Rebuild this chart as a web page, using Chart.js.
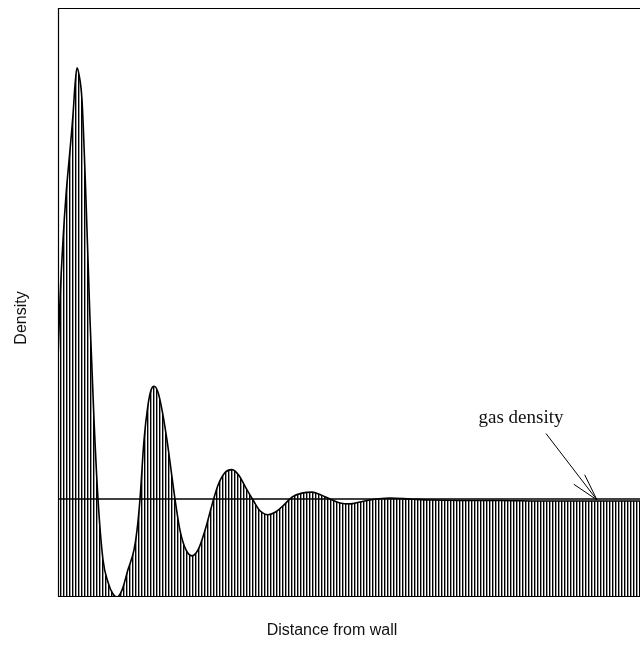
<!DOCTYPE html>
<html>
<head>
<meta charset="utf-8">
<script src="https://cdn.jsdelivr.net/npm/chart.js@4.4.1/dist/chart.umd.min.js"></script>
<style>
  html, body { margin: 0; padding: 0; background: #fff; }
  #wrap { width: 640px; height: 647px; }
</style>
</head>
<body>
<div id="wrap"><canvas id="densityChart"></canvas></div>
<script>
// distance from wall (arbitrary units) and density profile
const distance = [0, 2, 5, 8, 12, 15, 17, 19, 21, 24, 28, 32, 36, 40, 45, 50, 55, 59, 64, 70, 76, 79, 82, 86, 90, 93, 96, 100, 104, 109, 113, 117, 122, 128, 134, 140, 147, 154, 160, 167, 174, 181, 188, 195, 202, 210, 218, 226, 234, 244, 254, 263, 272, 282, 292, 302, 312, 332, 352, 372, 402, 442, 482, 522, 582];
const density  = [2.42, 3.03, 3.64, 4.10, 4.56, 4.92, 5.22, 5.40, 5.33, 5.07, 4.05, 2.83, 1.81, 1.0, 0.38, 0.15, 0.03, 0.0, 0.07, 0.28, 0.48, 0.68, 1.0, 1.6, 1.96, 2.11, 2.15, 2.09, 1.91, 1.6, 1.30, 1.0, 0.68, 0.48, 0.42, 0.48, 0.68, 0.94, 1.14, 1.27, 1.30, 1.24, 1.11, 0.99, 0.88, 0.84, 0.87, 0.94, 1.02, 1.06, 1.07, 1.04, 1.0, 0.96, 0.95, 0.97, 0.99, 1.01, 1.0, 0.99, 0.985, 0.985, 0.98, 0.98, 0.98];
const gasDensity = 1.0;
const xMax = 582;
const yMax = 6.01;

// annotation: label position and arrow tip, in data units
const gasLabel = { text: "gas density", x: 463, y: 1.78 };
const gasArrowTip = { x: 539, y: 0.99 };

// vertical hatching pattern
function hatch(){
  const c = document.createElement("canvas");
  c.width = 3; c.height = 4;
  const g = c.getContext("2d");
  g.fillStyle = "#fff"; g.fillRect(0, 0, 3, 4);
  g.fillStyle = "#000"; g.fillRect(0, 0, 1, 4);
  g.fillStyle = "#999"; g.fillRect(1, 0, 1, 4);
  return g.createPattern(c, "repeat");
}

const frame = {
  id: "frame",
  afterDatasetsDraw(chart){
    const {ctx, chartArea: a, scales: {x, y}} = chart;
    ctx.save();
    ctx.strokeStyle = "#000";
    ctx.lineWidth = 1.2;
    ctx.beginPath();
    ctx.moveTo(a.left + 0.5, a.bottom);
    ctx.lineTo(a.left + 0.5, a.top + 0.5);
    ctx.lineTo(a.right, a.top + 0.5);
    ctx.moveTo(a.left, a.bottom - 0.5);
    ctx.lineTo(a.right, a.bottom - 0.5);
    ctx.stroke();

    // axis titles
    ctx.fillStyle = "#111";
    ctx.font = "16px 'Liberation Sans', Arial, sans-serif";
    ctx.textAlign = "center";
    ctx.textBaseline = "middle";
    ctx.fillText("Distance from wall", 332, 631);
    ctx.save();
    ctx.translate(22, 318);
    ctx.rotate(-Math.PI / 2);
    ctx.fillText("Density", 0, 0);
    ctx.restore();

    // gas density label with arrow
    const lx = x.getPixelForValue(gasLabel.x), ly = y.getPixelForValue(gasLabel.y);
    ctx.font = "19px 'Liberation Serif', 'Times New Roman', serif";
    ctx.textBaseline = "alphabetic";
    ctx.fillText(gasLabel.text, lx, ly);
    const sx = lx + 25, sy = ly + 11;
    const tx = x.getPixelForValue(gasArrowTip.x), ty = y.getPixelForValue(gasArrowTip.y);
    ctx.lineWidth = 1;
    ctx.beginPath();
    ctx.moveTo(sx, sy); ctx.lineTo(tx, ty);
    const ang = Math.atan2(ty - sy, tx - sx);
    ctx.moveTo(tx, ty); ctx.lineTo(tx - 28 * Math.cos(ang - 0.32), ty - 28 * Math.sin(ang - 0.32));
    ctx.moveTo(tx, ty); ctx.lineTo(tx - 28 * Math.cos(ang + 0.2), ty - 28 * Math.sin(ang + 0.2));
    ctx.stroke();
    ctx.restore();
  }
};

new Chart(document.getElementById("densityChart"), {
  type: "line",
  data: {
    datasets: [
      {
        label: "Density",
        data: distance.map((d, i) => ({x: d, y: density[i]})),
        borderColor: "#000",
        borderWidth: 1.6,
        backgroundColor: hatch(),
        fill: "origin",
        pointRadius: 0,
        cubicInterpolationMode: "monotone",
        order: 2
      },
      {
        label: "gas density",
        data: [{x: 0, y: gasDensity}, {x: xMax, y: gasDensity}],
        borderColor: "#000",
        borderWidth: 1.4,
        fill: false,
        pointRadius: 0,
        order: 1
      }
    ]
  },
  plugins: [frame],
  options: {
    responsive: true,
    maintainAspectRatio: false,
    animation: false,
    layout: { padding: { left: 58, top: 8, right: 0, bottom: 50 } },
    plugins: { legend: { display: false }, tooltip: { enabled: false } },
    scales: {
      x: { type: "linear", min: 0, max: xMax, display: false },
      y: { min: 0, max: yMax, display: false }
    }
  }
});
</script>
</body>
</html>
